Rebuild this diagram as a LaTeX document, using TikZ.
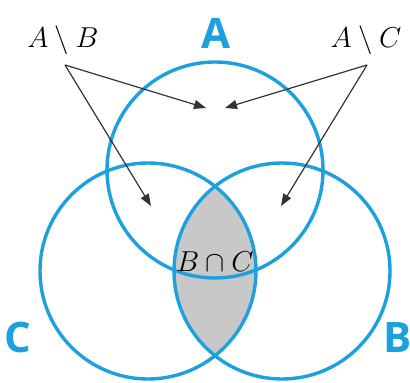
\documentclass[tikz,border=0pt]{standalone}
\usepackage{fontspec}
\setsansfont{Open Sans}
\usetikzlibrary{arrows.meta, positioning}
\definecolor{vennblue}{RGB}{28,160,222}
\definecolor{lensgray}{RGB}{200,200,200}

\begin{document}
\begin{tikzpicture}[x=0.5pt, y=-0.5pt,
        set/.style={draw=vennblue, line width=1.7pt, circle, minimum size=108pt, inner sep=0pt},
        setname/.style={text=vennblue, font=\sffamily\bfseries\fontsize{21}{24}\selectfont, inner sep=0pt},
        diff/.style={font=\fontsize{14.5}{16}\selectfont, inner sep=1pt},
        arr/.style={-{Triangle[length=6pt, width=4.5pt]}, line width=0.6pt, black!80}
    ]
        \useasboundingbox (0,0) rectangle (410,383);
        % shaded lens
        \begin{scope}
            \clip (148,271) circle (54pt);
            \fill[lensgray] (282,271) circle (54pt);
        \end{scope}
        \node[set] (setA) at (215,170) {};
        \node[set] (setC) at (148,271) {};
        \node[set] (setB) at (282,271) {};
        \node[setname] (nameA) at (216,33) {A};
        \node[setname] (nameC) at (18,337) {C};
        \node[setname] (nameB) at (398,338) {B};
        \node[diff] (amb) at (63,40) {$A \setminus B$};
        \node[diff] (amc) at (366,40) {$A \setminus C$};
        \node[diff] (bnc) at (215,262) {$B \cap C$};
        \coordinate (ambfoot) at (65,65);
        \coordinate (amcfoot) at (367,65);
        \coordinate (tipl) at (206,108);
        \coordinate (tipr) at (225,108);
        \coordinate (tipc) at (151,206);
        \coordinate (tipb) at (281,206);
        \draw[arr] (ambfoot) -- (tipl);
        \draw[arr] (ambfoot) -- (tipc);
        \draw[arr] (amcfoot) -- (tipr);
        \draw[arr] (amcfoot) -- (tipb);
    \end{tikzpicture}
\end{document}
